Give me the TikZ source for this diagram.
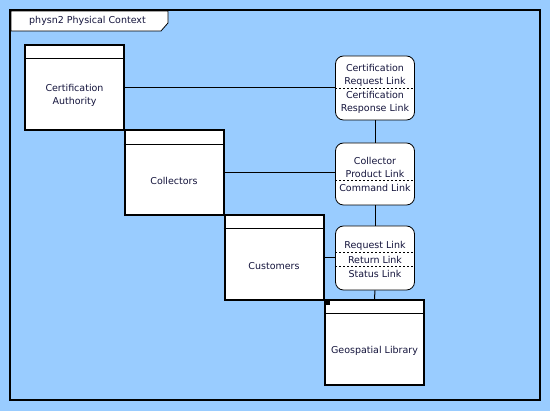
\documentclass[tikz,border=0pt]{standalone}
\usepackage{fontspec}
\setmainfont{DejaVu Sans}
\begin{document}
\begin{tikzpicture}[x=1pt,y=-1pt,
  every node/.style={font=\fontsize{9.5}{13}\selectfont, text=txtnavy},
  block/.style={draw=black, line width=2pt, fill=white, minimum width=99pt, minimum height=85pt, inner sep=0pt},
  linkbox/.style={draw=black, line width=0.8pt, fill=white, rounded corners=8pt, minimum width=79pt, inner sep=0pt},
  hdr/.style={line width=1pt},
  sep/.style={line width=0.7pt, dash pattern=on 2pt off 2pt},
  conn/.style={line width=1pt},
  lbl/.style={align=center, inner sep=0pt}]
\definecolor{bgblue}{HTML}{99CCFF}
\definecolor{txtnavy}{HTML}{14143C}
\useasboundingbox (0,0) rectangle (550,411);
\fill[bgblue] (0,0) rectangle (550,411);
% frame
\draw[line width=2pt] (10,10) rectangle (540,400);
\draw[line width=0.8pt, fill=white] (11,11) -- (168,11) -- (168,23) -- (161,31) -- (11,31) -- cycle;
\draw[line width=2pt] (10,10) -- (540,10);
\node[lbl, anchor=west] (title) at (29,20.5) {physn2 Physical Context};
% blocks
\node[block] (ca) at (74.5,87.5) {};
\node[block] (col) at (174,173) {};
\node[block] (cus) at (274,257.5) {};
\node[block] (geo) at (374.5,342.5) {};
\fill (325,300) rectangle (330,305);
\foreach \b in {ca,col,cus,geo}{
  \draw[hdr] ([yshift=-15pt]\b.north west) -- ([yshift=-15pt]\b.north east);
}
\node[lbl] (catext) at (74.5,95) {Certification\\Authority};
\node[lbl] (coltext) at (174,181) {Collectors};
\node[lbl] (custext) at (274,266) {Customers};
\node[lbl] (geotext) at (374.5,351) {Geospatial Library};
% link boxes
\node[linkbox, minimum height=64pt] (l1) at (375,88) {};
\node[linkbox, minimum height=62pt] (l2) at (375,174) {};
\node[linkbox, minimum height=64pt] (l3) at (375,258) {};
% connectors
\draw[conn] (ca.east) -- (ca.east -| l1.west);
\draw[conn] (col.east) -- (col.east -| l2.west);
\draw[conn] (cus.east) -- (cus.east -| l3.west);
\draw[conn] (l1.south) -- (l2.north);
\draw[conn] (l2.south) -- (l3.north);
\draw[conn] (l3.south) -- (geo.north);
% link compartments
\draw[sep] (l1.west |- 0,88) -- (l1.east |- 0,88);
\draw[sep] (l2.west |- 0,180) -- (l2.east |- 0,180);
\draw[sep] (l3.west |- 0,252) -- (l3.east |- 0,252);
\draw[sep] (l3.west |- 0,266) -- (l3.east |- 0,266);
\node[lbl] (t1a) at (375,75.5) {Certification\\Request Link};
\node[lbl] (t1b) at (375,102.5) {Certification\\Response Link};
\node[lbl] (t2a) at (375,167) {Collector\\Product Link};
\node[lbl] (t2b) at (375,188) {Command Link};
\node[lbl] (t3a) at (375,246) {Request Link};
\node[lbl] (t3b) at (375,260) {Return Link};
\node[lbl] (t3c) at (375,274) {Status Link};
\end{tikzpicture}
\end{document}
